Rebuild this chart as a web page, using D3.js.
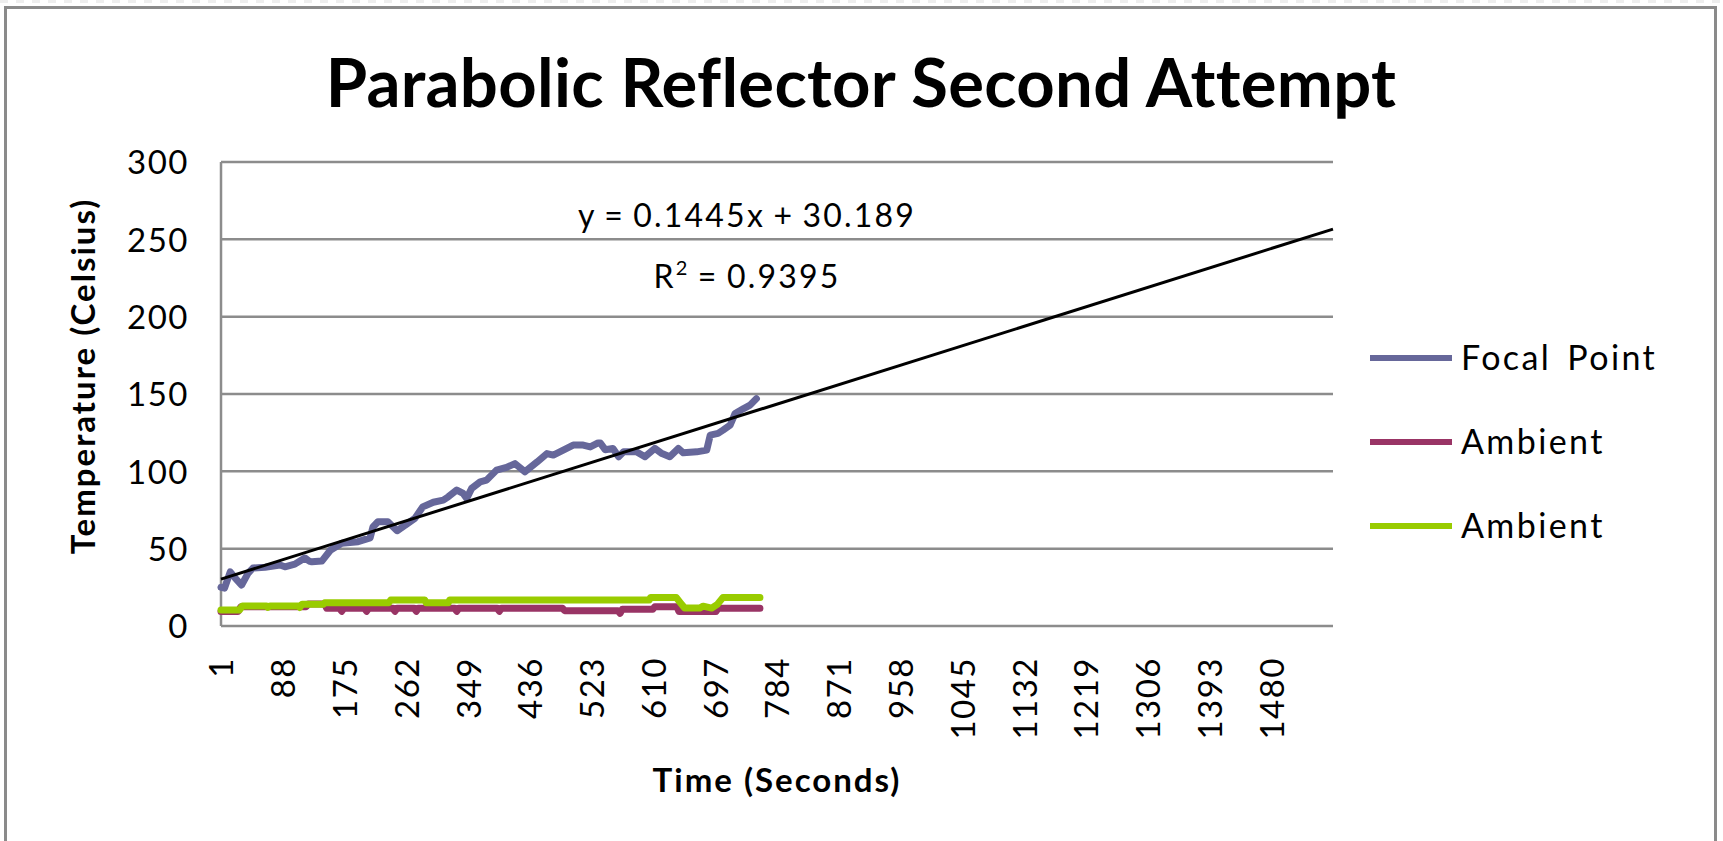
<!DOCTYPE html>
<html>
<head>
<meta charset="utf-8">
<script src="https://cdn.jsdelivr.net/npm/d3@7"></script>
<style>
  body { margin: 0; background: #ffffff; }
  text { font-family: Lato, "Open Sans", sans-serif; fill: #000000; font-variant-ligatures: none; }
</style>
</head>
<body>
<svg id="chart_vis"></svg>
<script>
// ---- data ----
let seriesNames = ["Focal Point", "Ambient", "Ambient"];
let seriesColors = ["#66679a", "#993465", "#99cc00"];

// [second, celsius]
let focalPoint = [
  [1, 25], [6, 24.5], [14, 35], [21, 31], [30, 26.5], [39, 34], [46, 37.5], [63, 38], [84, 39.4],
  [91, 38.3], [105, 40], [119, 44], [125, 42], [129, 41.5], [143, 42], [155, 49], [171, 53.5],
  [194, 54.5], [211, 57], [215, 64], [222, 67.4], [236, 67.4], [249, 61.6], [260, 65],
  [263, 66], [274, 69.6], [285, 77], [300, 80], [314, 81.4], [321, 83.5], [333, 87.9],
  [342, 85.7], [347, 82.5], [354, 89], [366, 93.2], [375, 94.3], [389, 100.8],
  [403, 102.5], [415, 105], [429, 99.7], [446, 106], [460, 111.5], [469, 110.5],
  [483, 113.7], [497, 117], [511, 117], [521, 115.8], [532, 118.4], [535, 118.4],
  [542, 114], [553, 114.8], [561, 109.4], [568, 112.6], [586, 112.6], [598, 109.4],
  [612, 114.8], [622, 111.5], [633, 109.4], [645, 114.8], [652, 112], [671, 112.6],
  [685, 113.7], [690, 123.4], [701, 124.5], [708, 126.6], [718, 129.8], [725, 137.4],
  [737, 140.6], [746, 142.8], [755, 147]
];

let ambientA = [
  [1, 9.3], [25, 9.3], [29, 12.5], [121, 12.5], [124, 14.2], [147, 14.2], [150, 11.4],
  [168, 11.4], [171, 9.5], [174, 11.4], [203, 11.4], [206, 9.5], [209, 11.4],
  [243, 11.4], [246, 9.5], [249, 11.4], [273, 11.4], [276, 9.5], [279, 11.4],
  [330, 11.4], [333, 9.5], [336, 11.4], [390, 11.4], [393, 9.5], [396, 11.4],
  [482, 11.4], [485, 9.9], [560, 9.9], [563, 8.2], [566, 10.8], [609, 10.8],
  [612, 12.5], [643, 12.5], [646, 9.3], [698, 9.3], [701, 11.4], [760, 11.4]
];

let ambientB = [
  [1, 10.3], [27, 10.3], [31, 13], [65, 13], [67, 12], [70, 13], [110, 13], [112, 12],
  [115, 14], [145, 14], [147, 15], [237, 15], [240, 16.8], [288, 16.8], [290, 15],
  [321, 15], [323, 16.8], [604, 16.8], [606, 18.5], [642, 18.5], [648, 15],
  [654, 11.6], [675, 11.6], [680, 12.8], [692, 11.6], [700, 14], [708, 18.5], [760, 18.5]
];

let trend = { slope: 0.1445, intercept: 30.189 };
let trendLabel = "y = 0.1445x + 30.189";
let rSquaredLabel = " = 0.9395";

let categoryCount = 1567;
let xTicks = [1, 88, 175, 262, 349, 436, 523, 610, 697, 784, 871, 958, 1045, 1132, 1219, 1306, 1393, 1480];
let yTicks = [0, 50, 100, 150, 200, 250, 300];

// ---- layout ----
let config = { 'svg': {}, 'plot': {}, 'legend': {} };

config.svg.width = 1723;
config.svg.height = 841;

config.plot.x = 221;
config.plot.y = 162;
config.plot.width = 1112;
config.plot.height = 464;

config.legend.x = 1370;
config.legend.y = 358;
config.legend.step = 84;
config.legend.line = 82;

let svg = d3.select("svg#chart_vis")
  .attr("width", config.svg.width)
  .attr("height", config.svg.height);

// chart frame
svg.append("line")
  .attr("x1", 0).attr("x2", config.svg.width)
  .attr("y1", 1.5).attr("y2", 1.5)
  .attr("stroke", "#eeeeee")
  .attr("stroke-width", 3)
  .attr("stroke-dasharray", "8,8");

svg.append("rect")
  .attr("x", 5.5)
  .attr("y", 7.5)
  .attr("width", 1710)
  .attr("height", 860)
  .attr("fill", "#ffffff")
  .attr("stroke", "#8a8a8a")
  .attr("stroke-width", 3);

let plot = svg.append("g")
  .attr("id", "plot")
  .attr("transform", translate(config.plot.x, config.plot.y));

let scale = {};

scale.x = d3.scaleLinear()
  .domain([1, categoryCount])
  .range([0, config.plot.width]);

scale.y = d3.scaleLinear()
  .domain([0, 300])
  .range([config.plot.height, 0]);

// gridlines
plot.append("g")
  .attr("class", "grid")
  .selectAll("line")
  .data(yTicks.filter(d => d > 0))
  .join("line")
  .attr("x1", 0)
  .attr("x2", config.plot.width)
  .attr("y1", d => scale.y(d))
  .attr("y2", d => scale.y(d))
  .attr("stroke", "#8c8c8c")
  .attr("stroke-width", 2.5);

// axis lines
plot.append("line")
  .attr("x1", 0).attr("x2", 0)
  .attr("y1", 0).attr("y2", config.plot.height)
  .attr("stroke", "#8c8c8c")
  .attr("stroke-width", 2.5);

plot.append("line")
  .attr("x1", 0).attr("x2", config.plot.width)
  .attr("y1", config.plot.height).attr("y2", config.plot.height)
  .attr("stroke", "#8c8c8c")
  .attr("stroke-width", 2.5);

let axis = {};

axis.y = d3.axisLeft(scale.y)
  .tickValues(yTicks)
  .tickSize(0)
  .tickPadding(32);

axis.x = d3.axisBottom(scale.x)
  .tickValues(xTicks)
  .tickFormat(d3.format("d"))
  .tickSize(0);

let gy = plot.append("g")
  .attr("id", "y-axis")
  .call(axis.y);
gy.select(".domain").remove();
gy.selectAll("text")
  .attr("font-family", "Lato")
  .attr("font-size", 33)
  .attr("dy", "0.36em")
  .style("letter-spacing", "1.5px");

let gx = plot.append("g")
  .attr("id", "x-axis")
  .attr("transform", translate(0, config.plot.height))
  .call(axis.x);
gx.select(".domain").remove();
gx.selectAll("text")
  .attr("font-family", "Lato")
  .attr("font-size", 33)
  .attr("transform", "rotate(-90)")
  .attr("text-anchor", "end")
  .attr("x", -31)
  .attr("y", 0)
  .attr("dy", "0.36em")
  .style("letter-spacing", "1.5px");

// series
let line = d3.line()
  .x(d => scale.x(d[0]))
  .y(d => scale.y(d[1]));

let allSeries = [focalPoint, ambientA, ambientB];

plot.append("g")
  .attr("class", "series")
  .selectAll("path")
  .data(allSeries)
  .join("path")
  .attr("d", line)
  .attr("fill", "none")
  .attr("stroke", (d, i) => seriesColors[i])
  .attr("stroke-width", 7)
  .attr("stroke-linejoin", "round")
  .attr("stroke-linecap", "round");

// linear trendline across the whole category axis
let trendPoints = [1, categoryCount].map(x => [x, trend.slope * x + trend.intercept]);

plot.append("path")
  .datum(trendPoints)
  .attr("d", line)
  .attr("fill", "none")
  .attr("stroke", "#000000")
  .attr("stroke-width", 3);

drawTitles();
drawLegend();

function drawTitles() {
  svg.append("text")
    .text("Parabolic Reflector Second Attempt")
    .attr("x", 861)
    .attr("y", 107)
    .attr("text-anchor", "middle")
    .attr("font-size", 67)
    .attr("font-weight", "bold")
    .style("letter-spacing", "0.3px");

  svg.append("text")
    .text("Time (Seconds)")
    .attr("x", 777)
    .attr("y", 792)
    .attr("text-anchor", "middle")
    .attr("font-size", 33)
    .attr("font-weight", "bold")
    .style("letter-spacing", "2px");

  svg.append("text")
    .text("Temperature (Celsius)")
    .attr("transform", translate(83, 376) + " rotate(-90)")
    .attr("text-anchor", "middle")
    .attr("dy", "0.35em")
    .attr("font-size", 33)
    .attr("font-weight", "bold")
    .style("letter-spacing", "2px");

  svg.append("text")
    .text(trendLabel)
    .attr("x", 747)
    .attr("y", 227)
    .attr("text-anchor", "middle")
    .attr("font-size", 32)
    .style("letter-spacing", "2.2px")
    .style("word-spacing", "-2px");

  let r2 = svg.append("text")
    .attr("x", 747)
    .attr("y", 288)
    .attr("text-anchor", "middle")
    .attr("font-size", 32)
    .style("letter-spacing", "2.2px")
    .style("word-spacing", "-2px");
  r2.append("tspan").text("R");
  r2.append("tspan").text("2").attr("font-size", 20).attr("dy", -13);
  r2.append("tspan").text(rSquaredLabel).attr("dy", 13);
}

function drawLegend() {
  let legend = svg.append("g")
    .attr("id", "legend")
    .attr("transform", translate(config.legend.x, config.legend.y));

  let items = legend.selectAll("g")
    .data(seriesNames)
    .join("g")
    .attr("transform", (d, i) => translate(0, i * config.legend.step));

  items.append("line")
    .attr("x1", 0)
    .attr("x2", config.legend.line)
    .attr("stroke", (d, i) => seriesColors[i])
    .attr("stroke-width", 6);

  items.append("text")
    .text(d => d)
    .attr("x", config.legend.line + 9)
    .attr("dy", "0.36em")
    .attr("font-size", 34)
    .style("letter-spacing", "2.4px")
    .style("word-spacing", "5px");
}

function translate(x, y) {
  return 'translate(' + x + ',' + y + ')';
}
</script>
</body>
</html>
